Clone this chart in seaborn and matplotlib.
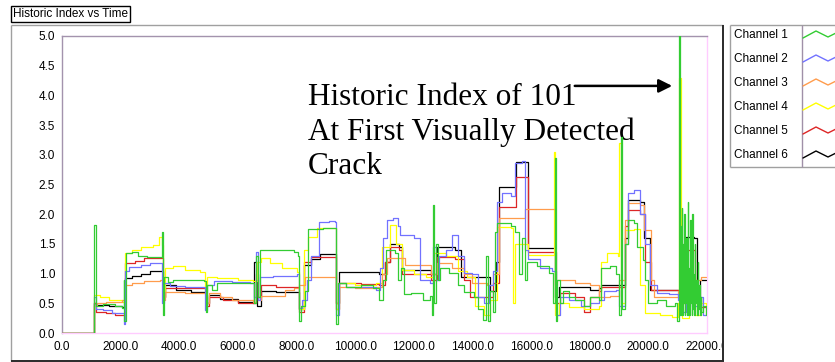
import numpy as np
import pandas as pd
import seaborn as sns
import matplotlib
matplotlib.use("Agg")
import matplotlib.pyplot as plt
from matplotlib.lines import Line2D
from matplotlib.patches import Rectangle

# ---------------------------------------------------------------- data
channels = ["Channel 1", "Channel 2", "Channel 3", "Channel 4", "Channel 5", "Channel 6"]
colors = ["#33cc33", "#7272ff", "#ff9c4c", "#ffff00", "#dd2626", "#000000"]

x_ticks = [0, 2000, 4000, 6000, 8000, 10000, 12000, 14000, 16000, 18000, 20000, 22000]
y_ticks = [0.0, 0.5, 1.0, 1.5, 2.0, 2.5, 3.0, 3.5, 4.0, 4.5, 5.0]

ch1_t = [0, 1090, 1160, 1400, 1800, 2050, 2100, 2130, 2180, 2400, 2600, 2900, 3350, 3400, 3440,
         3480, 3600, 3800, 4400, 4850, 4900, 4960, 5100, 5300, 5800, 6500, 6560, 6620, 6700,
         6760, 7300, 7900, 8050, 8100, 8160, 8300, 8380, 8900, 9300, 9340, 9400, 9700, 10200,
         10600, 10800, 10950, 11050, 11350, 11450, 11550, 11650, 11900, 12300, 12550, 12620,
         12660, 12700, 12760, 12820, 12900, 13200, 13500, 13700, 14050, 14200, 14350, 14450,
         14520, 14600, 14700, 14780, 14850, 15300, 15450, 15600, 15700, 15780, 15850, 16200,
         16600, 16760, 16800, 16850, 16900, 17000, 17100, 17300, 17500, 17800, 18000, 18300,
         18400, 18700, 18900, 19000, 19050, 19100, 19200, 19300, 19500, 19600, 19800, 19900,
         20000, 20300, 20600, 20900, 20980, 21040, 21080, 21100, 21120, 21140, 21160, 21180,
         21200, 21220, 21240, 21260, 21280, 21300, 21320, 21340, 21360, 21380, 21400, 21420,
         21440, 21460, 21480, 21500, 21520, 21540, 21560, 21580, 21600, 21620, 21650, 21680,
         21700, 21730, 21750, 21780, 21800, 21850, 21950]
ch1_v = [0.0, 1.82, 0.45, 0.48, 0.45, 0.42, 0.9, 0.2, 1.34, 1.36, 1.30, 1.28, 1.28, 1.70, 0.3,
         0.95, 0.86, 0.90, 0.90, 0.88, 0.35, 0.80, 0.72, 0.84, 0.84, 0.84, 0.5, 1.30, 0.6,
         1.40, 1.40, 1.36, 1.30, 0.2, 0.45, 0.7, 1.75, 1.77, 1.77, 0.15, 0.85, 0.78, 0.80,
         0.75, 0.55, 0.9, 1.40, 1.35, 0.9, 1.1, 0.65, 0.68, 0.55, 0.62, 0.3,
         2.15, 0.5, 1.5, 0.9, 1.1, 1.01, 0.8, 0.69, 0.61, 0.4, 0.22, 1.3,
         0.2, 0.7, 0.35, 1.7, 1.85, 1.80, 1.7, 1.0, 1.6, 0.9, 1.20, 1.12,
         1.01, 0.5, 2.95, 0.2, 0.9, 0.5, 0.7, 0.6, 0.55, 0.45, 0.6, 0.55,
         1.09, 1.12, 1.0, 0.3, 3.3, 0.4, 1.5, 1.90, 1.85, 1.45, 1.23, 0.9,
         0.5, 0.55, 0.45, 0.5, 0.2, 101.0, 0.3, 1.8, 0.4, 2.1, 0.3, 1.5,
         0.5, 2.0, 0.3, 1.2, 0.5, 1.6, 0.3, 2.2, 0.4, 1.1, 0.3, 1.9,
         0.5, 1.3, 0.3, 2.0, 0.4, 1.0, 0.3, 1.5, 0.5, 0.9, 0.3, 1.2,
         0.4, 0.8, 0.3, 0.6, 0.35, 0.45, 0.3]

ch2_t = [0, 1100, 1150, 1400, 1700, 2050, 2100, 2160, 2300, 2700, 3000, 3350, 3420, 3480, 3700,
         4200, 4800, 4880, 4950, 5200, 5800, 6400, 6550, 6600, 6680, 6750, 7200, 7700, 8000,
         8080, 8200, 8350, 8500, 8750, 9100, 9300, 9340, 9450, 9700, 10300, 10700, 10850,
         10950, 11100, 11300, 11450, 11520, 12000, 12200, 12550, 12650, 12750, 12850, 13100,
         13300, 13500, 13700, 14000, 14200, 14400, 14550, 14700, 14850, 15000, 15300, 15450,
         15700, 15800, 15900, 16300, 16700, 16850, 17000, 17300, 17700, 18000, 18300, 18500,
         18900, 19000, 19200, 19300, 19500, 19700, 19900, 20050, 20300, 20700, 21000, 21100,
         21300, 21500, 21700, 21850, 21950]
ch2_v = [0.0, 0.6, 0.40, 0.38, 0.34, 0.33, 0.15, 1.05, 1.11, 1.15, 1.18, 1.18, 0.5, 0.85, 0.79,
         0.77, 0.77, 0.39, 0.80, 0.88, 0.86, 0.85, 0.6, 1.36, 0.55, 0.95, 0.96, 0.96, 1.0,
         0.42, 0.55, 0.9, 1.3, 1.87, 1.88, 1.87, 0.3, 0.85, 0.78, 0.78, 0.72, 1.1,
         1.6, 1.9, 1.94, 1.8, 1.65, 1.60, 0.89, 0.85, 1.45, 0.9, 1.3, 1.4,
         1.65, 1.3, 1.01, 1.0, 0.6, 0.5, 0.8, 1.05, 2.2, 2.36, 2.3, 2.86,
         2.90, 1.4, 1.25, 1.10, 1.05, 0.3, 0.6, 0.55, 0.45, 0.5, 0.55, 0.7,
         0.72, 0.45, 1.5, 2.36, 2.4, 2.0, 1.5, 0.8, 0.67, 0.65, 0.55, 0.35,
         0.7, 0.45, 0.6, 0.3, 0.3]

ch3_t = [0, 1100, 1200, 1500, 1800, 2050, 2150, 2400, 2800, 3350, 3450, 3500, 4200, 4850, 4900,
         5000, 5400, 5800, 6500, 6600, 6700, 6800, 7300, 7600, 7900, 8100, 8300, 9300, 9350,
         9450, 10000, 10700, 10900, 11100, 11500, 11700, 12200, 12600, 12800, 13300, 13700,
         14000, 14500, 14700, 14900, 15500, 15800, 16700, 16800, 16900, 17500, 18000, 18300,
         18700, 19000, 19200, 19300, 19700, 19850, 20100, 20200, 20800, 21000, 21100, 21600,
         21800, 21950]
ch3_v = [0.0, 0.45, 0.50, 0.52, 0.53, 0.55, 0.81, 0.84, 0.88, 0.89, 0.55, 0.69, 0.68, 0.67, 0.5,
         0.67, 0.60, 0.55, 0.53, 0.9, 0.55, 0.62, 0.62, 0.72, 0.75, 0.80, 0.95, 0.95, 0.5,
         0.78, 0.76, 0.78, 1.0, 1.26, 1.26, 1.14, 1.14, 1.0, 1.18, 1.10, 1.0,
         0.84, 0.8, 1.0, 1.94, 1.94, 2.09, 2.09, 0.8, 0.89, 0.85, 0.80, 0.6,
         0.62, 0.9, 1.9, 2.19, 2.15, 1.73, 0.9, 0.6, 0.6, 0.7, 0.95, 0.9,
         0.95, 0.95]

ch4_t = [0, 1100, 1300, 1600, 2050, 2150, 2400, 2700, 3100, 3300, 3400, 3450, 3500, 3800, 4200,
         4700, 4880, 4950, 5300, 6000, 6500, 6650, 6800, 7100, 7500, 8000, 8100, 8250, 8400,
         8700, 9300, 9350, 9450, 10000, 10700, 10900, 11200, 11400, 11600, 12000, 12400, 12700,
         13100, 13500, 13800, 14100, 14400, 14600, 14850, 15300, 15380, 15450, 15900, 16700,
         16780, 16830, 16950, 17300, 17800, 18300, 18400, 18600, 18950, 19000, 19060, 19200,
         19500, 19700, 19900, 20400, 20800, 21000, 21060, 21120, 21150, 21400, 21600, 21800,
         21950]
ch4_v = [0.0, 0.64, 0.60, 0.55, 0.52, 1.35, 1.40, 1.45, 1.48, 1.62, 1.48, 0.6, 1.09, 1.12, 1.06,
         1.03, 0.7, 0.95, 0.93, 0.90, 0.88, 1.2, 1.26, 1.18, 1.10, 1.03, 0.4, 1.4, 1.62,
         1.77, 1.77, 0.4, 0.84, 0.80, 0.84, 1.45, 1.82, 1.5, 1.06, 1.0, 0.95, 1.35,
         1.3, 1.05, 0.95, 0.45, 0.3, 0.55, 1.78, 1.77, 0.5, 1.5, 1.31, 1.31,
         3.05, 0.3, 0.5, 0.44, 0.40, 0.45, 1.2, 1.35, 1.3, 3.2, 0.5, 1.73,
         1.75, 0.8, 0.34, 0.30, 0.27, 0.5, 4.3, 0.4, 0.25, 0.6, 0.3, 0.5,
         0.3]

ch5_t = [0, 1100, 1150, 1500, 1800, 2050, 2150, 2500, 2800, 3350, 3450, 3500, 4000, 4850, 4900,
         5000, 5500, 6000, 6500, 6600, 6700, 6800, 7300, 8050, 8100, 8250, 8500, 9300, 9350,
         9450, 10200, 10800, 11000, 11200, 11500, 11600, 12300, 12600, 12800, 13400, 13700,
         13900, 14400, 14700, 14900, 15450, 15500, 15800, 15900, 16700, 16850, 17000, 17500,
         17800, 18000, 18300, 18400, 19000, 19200, 19300, 19700, 19900, 20100, 20800, 21100,
         21300, 21500, 21600, 21800, 21950]
ch5_v = [0.0, 0.5, 0.35, 0.33, 0.30, 0.30, 1.18, 1.22, 1.26, 1.26, 0.6, 0.76, 0.75, 0.75, 0.45,
         0.61, 0.55, 0.50, 0.50, 1.0, 0.6, 0.80, 0.78, 0.78, 0.35, 1.20, 1.28, 1.28, 0.4,
         0.84, 0.82, 0.80, 1.2, 1.45, 1.40, 1.0, 1.0, 0.9, 1.28, 1.25, 0.9,
         0.6, 0.6, 0.85, 2.12, 2.12, 2.63, 2.63, 1.37, 1.37, 0.5, 0.67, 0.6,
         0.35, 0.6, 0.7, 0.78, 0.78, 1.8, 2.07, 2.0, 1.2, 0.72, 0.72, 0.5,
         1.4, 1.4, 0.6, 0.44, 0.44]

ch6_t = [0, 1100, 1150, 1600, 2050, 2150, 2400, 2700, 3000, 3350, 3450, 3500, 3900, 4400, 4850,
         4900, 5000, 5400, 6000, 6500, 6550, 6650, 6800, 7300, 8050, 8100, 8250, 8500, 8800,
         9300, 9350, 9450, 10300, 10800, 11000, 11200, 11500, 11600, 12300, 12600, 12800,
         13400, 13600, 14400, 14600, 14800, 14900, 15400, 15500, 15800, 15900, 16700, 16800,
         16950, 17500, 18000, 18300, 18400, 19000, 19200, 19300, 19700, 19850, 20050, 20900,
         21100, 21300, 21550, 21650, 21750, 21950]
ch6_v = [0.0, 0.5, 0.47, 0.45, 0.44, 0.93, 0.96, 1.0, 1.04, 1.04, 0.6, 0.80, 0.72, 0.69, 0.69,
         0.5, 0.64, 0.58, 0.52, 0.50, 1.2, 0.45, 0.7, 0.69, 0.69, 0.4, 1.14, 1.25, 1.33,
         1.33, 0.5, 1.03, 1.03, 1.0, 1.2, 1.5, 1.45, 1.06, 1.06, 1.0, 1.45,
         1.4, 0.95, 0.95, 0.7, 1.2, 2.46, 2.46, 2.88, 2.88, 1.43, 1.43, 0.6,
         0.78, 0.78, 0.72, 0.75, 0.8, 0.8, 1.6, 2.24, 2.2, 1.6, 0.72, 0.72,
         0.6, 1.62, 1.6, 0.5, 0.89, 0.89]

series = [(ch1_t, ch1_v), (ch2_t, ch2_v), (ch3_t, ch3_v),
          (ch4_t, ch4_v), (ch5_t, ch5_v), (ch6_t, ch6_v)]

frames = []
for name, (t, v) in zip(channels, series):
    frames.append(pd.DataFrame({"Time": t, "Index": v, "Channel": name}))
df = pd.concat(frames, ignore_index=True)

# ---------------------------------------------------------------- figure
sns.set_style("white")
plt.rcParams["font.family"] = ["Liberation Sans", "DejaVu Sans"]

W, H = 835, 362
fig = plt.figure(figsize=(W / 100, H / 100), dpi=100)


def fx(px):
    return px / W


def fy(py):
    return 1 - py / H


ax = fig.add_axes([fx(62), fy(333), fx(707) - fx(62), fy(36) - fy(333)])

palette = dict(zip(channels, colors))
sns.lineplot(data=df, x="Time", y="Index", hue="Channel",
             hue_order=channels[::-1], palette=palette,
             estimator=None, sort=False, drawstyle="steps-post",
             linewidth=0.9, legend=False, ax=ax)
for ln in ax.lines:
    ln.set_zorder(3)

ax.set_xlim(0, 22000)
ax.set_ylim(0, 5)
ax.set_xticks(x_ticks)
ax.set_xticklabels([f"{v:.1f}" for v in x_ticks])
ax.set_yticks(y_ticks)
ax.set_yticklabels([f"{v:.1f}" for v in y_ticks])
ax.set_xlabel("")
ax.set_ylabel("")
ax.tick_params(axis="both", which="major", labelsize=8.5, length=4.5, width=0.9,
               color="#1a1a1a", direction="out", pad=1.5, labelcolor="black")
ax.tick_params(axis="y", pad=0.5)

for side, col in (("left", "#a393ad"), ("top", "#a393ad"),
                  ("right", "#ffccff"), ("bottom", "#ffccff")):
    ax.spines[side].set_visible(True)
    ax.spines[side].set_color(col)
    ax.spines[side].set_linewidth(1.0)

# annotation pointing at the detected crack
ax.text(0.381, 0.843, "Historic Index of 101\nAt First Visually Detected\nCrack",
        transform=ax.transAxes, family=["Liberation Serif", "DejaVu Serif"],
        fontsize=22.5, va="top", ha="left", linespacing=1.24, color="black", zorder=2)
ax.annotate("", xy=(0.946, 0.832), xytext=(0.795, 0.832),
            xycoords="axes fraction", textcoords="axes fraction",
            arrowprops=dict(arrowstyle="-|>", color="black", lw=1.8,
                            mutation_scale=20, shrinkA=0, shrinkB=0),
            zorder=5)

# mask overflow of the last tick label beyond the panel
fig.add_artist(Rectangle((fx(724), 0), 1 - fx(724), fy(330), transform=fig.transFigure,
                         facecolor="white", edgecolor="none", zorder=10))

# panel frame
def seg(x0, y0, x1, y1, color, lw=1.0):
    fig.add_artist(Line2D([fx(x0), fx(x1)], [fy(y0), fy(y1)], transform=fig.transFigure,
                          color=color, lw=lw, zorder=11, solid_capstyle="butt"))


seg(11, 25, 11, 361, "#a0a0a0")
seg(11, 25, 723, 25, "#a0a0a0")
seg(723, 25, 723, 361, "#2a2a2a", 1.4)
seg(11, 360.5, 723.5, 360.5, "#2a2a2a", 1.4)

# plot title box
fig.text(fx(13), fy(14), "Historic Index vs Time", fontsize=8.5, va="center", ha="left",
         color="black", zorder=12,
         bbox=dict(boxstyle="square,pad=0.2", facecolor="white", edgecolor="black", lw=1))

# legend panel
seg(730, 25, 730, 167, "#a0a0a0")
seg(730, 25, 835, 25, "#a0a0a0")
seg(730, 167, 835, 167, "#a0a0a0")
seg(802, 25, 802, 167, "#a090a8")
zig_dx = [0, 13, 25, 33]
zig_dy = [3, -4, 2, -2]
for i, (name, col) in enumerate(zip(channels, colors)):
    yc = 35 + 24 * i
    fig.text(fx(734), fy(yc), name, fontsize=8.5, va="center", ha="left", color="black")
    fig.add_artist(Line2D([fx(803 + d) for d in zig_dx], [fy(yc + d) for d in zig_dy],
                          transform=fig.transFigure, color=col, lw=1.0, zorder=12))

fig.savefig("out.png", dpi=100, facecolor="white")
